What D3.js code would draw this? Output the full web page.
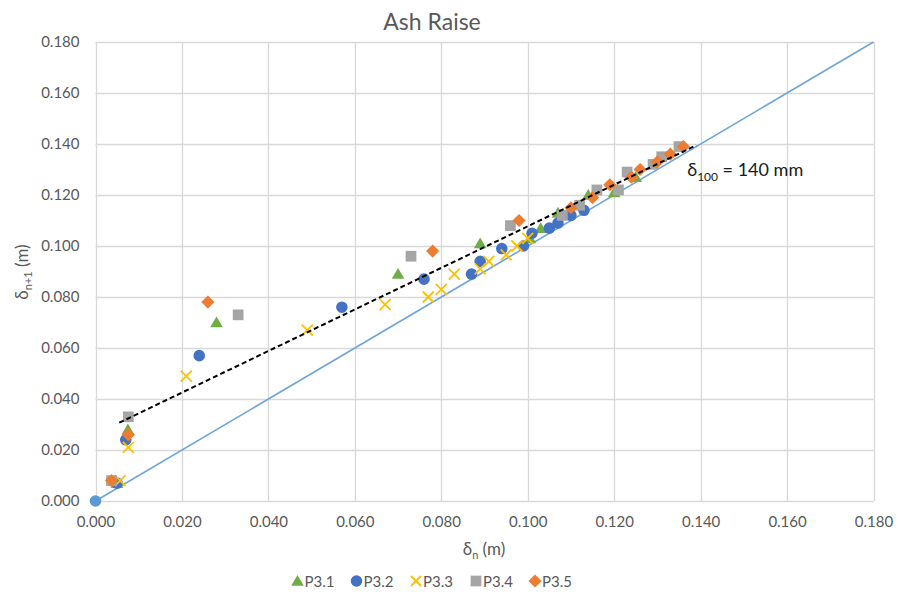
<!DOCTYPE html>
<html><head><meta charset="utf-8">
<script src="https://cdn.jsdelivr.net/npm/d3@7"></script>
<style>body{margin:0;background:#fff;} svg{display:block;font-family:Lato,"Open Sans",sans-serif;}</style>
</head><body><svg id="c" width="897" height="596"></svg>
<script>
const title = "Ash Raise";
const xTicks = [0,0.02,0.04,0.06,0.08,0.10,0.12,0.14,0.16,0.18];
const yTicks = [0,0.02,0.04,0.06,0.08,0.10,0.12,0.14,0.16,0.18];
const seriesNames = ["P3.1","P3.2","P3.3","P3.4","P3.5"];
const seriesColors = ["#70AD47","#4472C4","#FFC000","#A5A5A5","#ED7D31"];
const seriesShapes = ["triangle","circle","x","square","diamond"];
const p31 = [[0.005,0.007],[0.0075,0.028],[0.028,0.070],[0.070,0.089],[0.089,0.101],[0.1005,0.103],[0.103,0.107],[0.107,0.113],[0.114,0.120],[0.120,0.121],[0.125,0.127]];
const p32 = [[0.005,0.007],[0.007,0.024],[0.024,0.057],[0.057,0.076],[0.076,0.087],[0.087,0.089],[0.089,0.094],[0.094,0.099],[0.099,0.100],[0.101,0.105],[0.105,0.107],[0.107,0.109],[0.110,0.112],[0.113,0.114]];
const p33 = [[0.0057,0.008],[0.0076,0.021],[0.021,0.049],[0.049,0.067],[0.067,0.077],[0.077,0.080],[0.080,0.083],[0.083,0.089],[0.089,0.091],[0.091,0.094],[0.095,0.0965],[0.0975,0.100],[0.100,0.103]];
const p34 = [[0.0037,0.008],[0.0076,0.033],[0.033,0.073],[0.073,0.096],[0.096,0.108],[0.108,0.112],[0.112,0.116],[0.116,0.122],[0.121,0.122],[0.123,0.129],[0.129,0.132],[0.131,0.135],[0.135,0.139]];
const p35 = [[0.0037,0.008],[0.0076,0.026],[0.026,0.078],[0.078,0.098],[0.098,0.110],[0.110,0.115],[0.115,0.119],[0.119,0.124],[0.124,0.127],[0.126,0.130],[0.130,0.133],[0.133,0.136],[0.136,0.139]];
const seriesData = [p31,p32,p33,p34,p35];
const identityLine = [[0,0],[0.18,0.18]];
const trendLine = [[0.0055,0.0307],[0.139,0.1395]];
const annotation = {x:0.1369, y:0.1275, main:"δ", sub:"100", rest:" = 140 mm"};

const svg = d3.select("#c");
const x = d3.scaleLinear().domain([0,0.18]).range([95.5,873.5]);
const y = d3.scaleLinear().domain([0,0.18]).range([501,42]);
const fmt = d3.format(".3f");

// grid
svg.append("g").selectAll("line").data(yTicks).join("line")
  .attr("x1",x(0)).attr("x2",x(0.18)).attr("y1",d=>Math.round(y(d))+0.5).attr("y2",d=>Math.round(y(d))+0.5)
  .attr("stroke","#d9d9d9").attr("stroke-width",1.3);
svg.append("g").selectAll("line").data(xTicks).join("line")
  .attr("y1",y(0)).attr("y2",y(0.18)).attr("x1",d=>Math.round(x(d))+0.5).attr("x2",d=>Math.round(x(d))+0.5)
  .attr("stroke","#d9d9d9").attr("stroke-width",1.3);

// axes tick labels
const xAxis = d3.axisBottom(x).tickValues(xTicks).tickFormat(fmt).tickSize(0).tickPadding(15);
const gx = svg.append("g").attr("transform",`translate(0,${y(0)})`).call(xAxis);
gx.select(".domain").remove();
gx.selectAll("text").attr("fill","#595959").style("font-size","15px").style("font-family","Lato");
const yAxis = d3.axisLeft(y).tickValues(yTicks).tickFormat(fmt).tickSize(0).tickPadding(16);
const gy = svg.append("g").attr("transform",`translate(${x(0)},0)`).call(yAxis);
gy.select(".domain").remove();
gy.selectAll("text").attr("fill","#595959").style("font-size","15px").style("font-family","Lato");

// identity line
const line = d3.line().x(d=>x(d[0])).y(d=>y(d[1]));
svg.append("path").datum(identityLine).attr("d",line).attr("fill","none").attr("stroke","#6fa5d9").attr("stroke-width",1.6);
svg.append("circle").attr("cx",x(0)).attr("cy",y(0)).attr("r",5.8).attr("fill","#5B9BD5");

// symbols
function shapePath(s){
  const r=5.8;
  if(s==="circle") return d3.symbol(d3.symbolCircle, Math.PI*r*r)();
  if(s==="square") return d3.symbol(d3.symbolSquare, 115)();
  if(s==="triangle"){const h=6;return `M0,${-h}L${h*1.05},${h*0.8}L${-h*1.05},${h*0.8}Z`;}
  if(s==="diamond"){const h=6.6;return `M0,${-h}L${h},0L0,${h}L${-h},0Z`;}
  return "";
}
seriesData.forEach((data,i)=>{
  const g = svg.append("g");
  const s = seriesShapes[i];
  if(s==="x"){
    g.selectAll("path").data(data).join("path")
      .attr("transform",d=>`translate(${x(d[0])},${y(d[1])})`)
      .attr("d","M-5.5,-5.5L5.5,5.5M-5.5,5.5L5.5,-5.5").attr("stroke",seriesColors[i]).attr("stroke-width",1.8).attr("fill","none");
  } else {
    g.selectAll("path").data(data).join("path")
      .attr("transform",d=>`translate(${x(d[0])},${y(d[1])})`)
      .attr("d",shapePath(s)).attr("fill",seriesColors[i]);
  }
});

// trend line
svg.append("path").datum(trendLine).attr("d",line).attr("fill","none").attr("stroke","#000").attr("stroke-width",2).attr("stroke-dasharray","5,3");

// annotation
const ann = svg.append("text").attr("x",x(annotation.x)).attr("y",y(annotation.y)).attr("fill","#1a1a1a").style("font-size","18px");
ann.append("tspan").text(annotation.main);
ann.append("tspan").attr("dy",5).style("font-size","12px").text(annotation.sub);
ann.append("tspan").attr("dy",-5).text(annotation.rest);

// title
svg.append("text").attr("x",432).attr("y",30).attr("text-anchor","middle").attr("fill","#595959").style("font-size","23px").text(title);

// axis titles
const xt = svg.append("text").attr("x",484).attr("y",555).attr("text-anchor","middle").attr("fill","#595959").style("font-size","17px");
xt.append("tspan").text("δ");
xt.append("tspan").attr("dy",4).style("font-size","11px").text("n");
xt.append("tspan").attr("dy",-4).text(" (m)");
const yt = svg.append("text").attr("transform","translate(28,272) rotate(-90)").attr("text-anchor","middle").attr("fill","#595959").style("font-size","17px");
yt.append("tspan").text("δ");
yt.append("tspan").attr("dy",4).style("font-size","11px").text("n+1");
yt.append("tspan").attr("dy",-4).text(" (m)");

// legend
const legX = [297.5,356.5,416,476,535];
const lg = svg.append("g");
seriesNames.forEach((n,i)=>{
  const cx=legX[i], cy=581;
  if(seriesShapes[i]==="x"){
    lg.append("path").attr("transform",`translate(${cx},${cy})`).attr("d","M-5,-5L5,5M-5,5L5,-5").attr("stroke",seriesColors[i]).attr("stroke-width",1.8);
  } else {
    lg.append("path").attr("transform",`translate(${cx},${cy})`).attr("d",shapePath(seriesShapes[i])).attr("fill",seriesColors[i]);
  }
  lg.append("text").attr("x",cx+7).attr("y",cy+5.5).attr("fill","#595959").style("font-size","15px").text(n);
});
</script></body></html>
